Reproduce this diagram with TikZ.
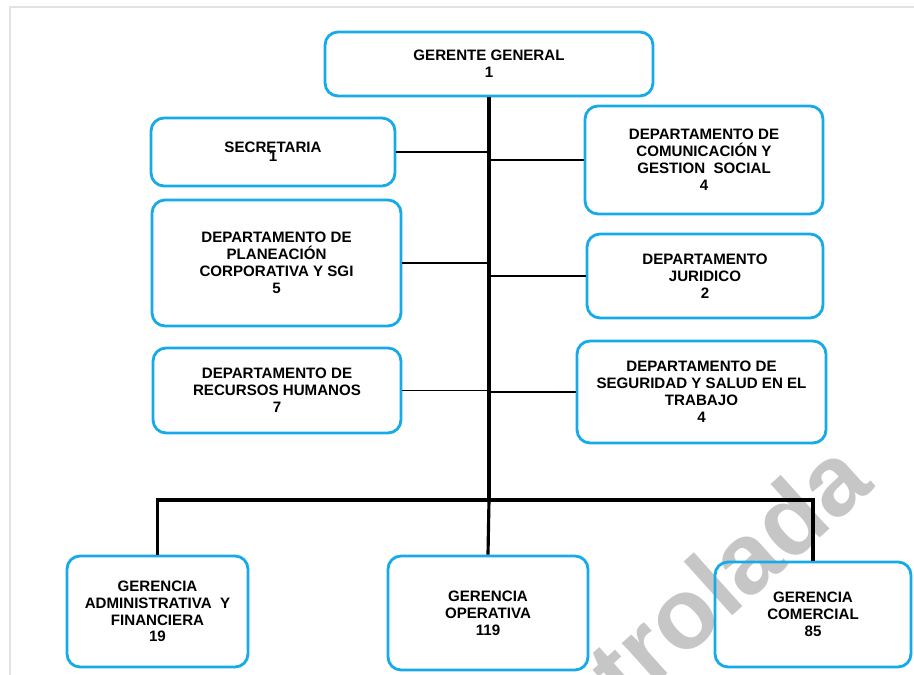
\documentclass[tikz,border=0pt]{standalone}
\usepackage{fontspec}
\setmainfont{Liberation Sans}
\definecolor{cajaazul}{RGB}{22,170,232}
\definecolor{marcogris}{RGB}{226,226,226}

\begin{document}
\begin{tikzpicture}[x = 0.02cm, y = -0.02cm,
    caja/.style = {draw = cajaazul, line width = 1.6pt, rounded corners = 0.26cm, align = center, inner sep = 0pt,
        font = \bfseries\fontsize{8.6}{9.6}\selectfont},
    linea/.style = {line width = 1.1pt},
    tronco/.style = {line width = 1.8pt}]
    \useasboundingbox (0,0) rectangle (914,675);
    \draw[marcogris, line width = 1.2pt] (10,675) -- (10,7) -- (914,7);
    \node[text = gray!45, font = \bfseries\fontsize{57}{57}\selectfont, rotate = 42] (marca) at (728,572) {trolada};

    \node[caja, minimum width = 6.56cm, minimum height = 1.28cm] (gg) at (489,64) {GERENTE GENERAL\\1};
    \node[caja, minimum width = 4.88cm, minimum height = 1.36cm] (secre) at (273,152) {SECRETARIA\\[-4.5pt]1};
    \node[caja, minimum width = 4.98cm, minimum height = 2.52cm] (plan) at (276.5,263) {DEPARTAMENTO DE\\PLANEACIÓN\\CORPORATIVA Y SGI\\5};
    \node[caja, minimum width = 4.96cm, minimum height = 1.70cm] (rrhh) at (277,390.5) {DEPARTAMENTO DE\\RECURSOS HUMANOS\\7};
    \node[caja, minimum width = 4.76cm, minimum height = 2.16cm] (comu) at (704,160) {DEPARTAMENTO DE\\COMUNICACIÓN Y\\GESTION\ \ SOCIAL\\4};
    \node[caja, minimum width = 4.72cm, minimum height = 1.68cm] (jur) at (705,276) {DEPARTAMENTO\\JURIDICO\\2};
    \node[caja, minimum width = 4.98cm, minimum height = 2.04cm] (sst) at (701.5,392) {DEPARTAMENTO DE\\SEGURIDAD Y SALUD EN EL\\TRABAJO\\4};
    \node[caja, minimum width = 3.62cm, minimum height = 2.22cm] (gadm) at (157.5,611.5) {GERENCIA\\ADMINISTRATIVA\ \ Y\\FINANCIERA\\19};
    \node[caja, minimum width = 4.00cm, minimum height = 2.28cm] (gop) at (488,613) {GERENCIA\\OPERATIVA\\119};
    \node[caja, minimum width = 3.92cm, minimum height = 2.10cm] (gcom) at (813,614.5) {GERENCIA\\COMERCIAL\\85};

    \coordinate (barra) at (489,500);
    \draw[tronco] (gg.south) -- (barra);
    \draw[linea] (secre.east) -- (secre.east -| gg.south);
    \draw[linea] (plan.east) -- (plan.east -| gg.south);
    \draw[linea] (rrhh.east) -- (rrhh.east -| gg.south);
    \draw[linea] (comu.west) -- (comu.west -| gg.south);
    \draw[linea] (jur.west) -- (jur.west -| gg.south);
    \draw[linea] (sst.west) -- (sst.west -| gg.south);
    \draw[tronco] (gadm.north) |- (barra) -| (gcom.north);
    \draw[tronco] (barra) -- (gop.north);
\end{tikzpicture}
\end{document}
